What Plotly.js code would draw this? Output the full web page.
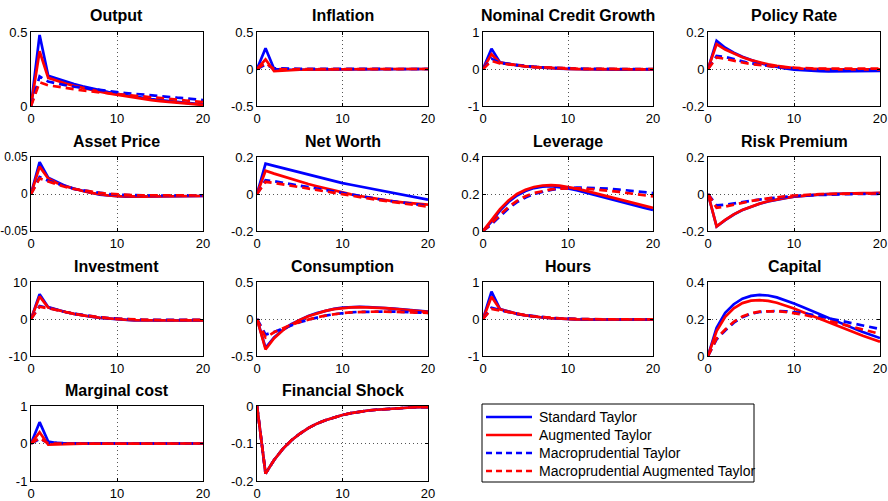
<!DOCTYPE html>
<html><head><meta charset="utf-8">
<script src="https://cdn.plot.ly/plotly-3.0.1.min.js"></script>
<style>html,body{margin:0;padding:0;background:#fff}#chart{width:888px;height:501px}</style>
</head><body><div id="chart"></div>
<script>
const periods = [0,1,2,3,4,5,6,7,8,9,10,11,12,13,14,15,16,17,18,19,20];
const seriesNames = ['Standard Taylor','Augmented Taylor','Macroprudential Taylor','Macroprudential Augmented Taylor'];
const xTickVals = [0,10,20];
const xTickText = ['0','10','20'];

// Output
const output_std = [0,0.48,0.205,0.185,0.165,0.148,0.133,0.119,0.106,0.094,0.083,0.073,0.064,0.055,0.047,0.040,0.033,0.027,0.021,0.016,0.011];
const output_aug = [0,0.37,0.19,0.17,0.152,0.136,0.121,0.108,0.096,0.085,0.075,0.065,0.056,0.048,0.040,0.033,0.027,0.021,0.016,0.011,0.007];
const output_mp  = [0,0.20,0.165,0.15,0.14,0.13,0.122,0.114,0.107,0.10,0.094,0.088,0.082,0.076,0.071,0.066,0.061,0.056,0.052,0.046,0.040];
const output_mpa = [0,0.16,0.14,0.13,0.12,0.112,0.105,0.098,0.092,0.086,0.080,0.074,0.068,0.062,0.057,0.052,0.047,0.042,0.037,0.032,0.027];
// Inflation
const infl_std = [0,0.28,0.0,-0.01,-0.01,-0.01,-0.01,-0.008,-0.006,-0.005,-0.004,-0.003,-0.002,-0.002,-0.001,-0.001,0,0,0,0,0];
const infl_aug = [0,0.13,-0.03,-0.02,-0.015,-0.01,-0.008,-0.006,-0.005,-0.004,-0.003,-0.002,-0.001,-0.001,0,0,0,0,0,0,0];
const infl_mp  = [0,0.06,0.01,0.005,0.003,0.002,0.001,0.001,0,0,0,0,0,0,0,0,0,0,0,0,0];
const infl_mpa = [0,0.08,0.0,-0.005,-0.004,-0.003,-0.002,-0.001,-0.001,0,0,0,0,0,0,0,0,0,0,0,0];
// Nominal Credit Growth
const credit_std = [0,0.55,0.18,0.13,0.10,0.07,0.05,0.035,0.02,0.01,0.0,-0.005,-0.01,-0.012,-0.014,-0.015,-0.015,-0.015,-0.015,-0.014,-0.013];
const credit_aug = [0,0.40,0.17,0.13,0.10,0.07,0.05,0.035,0.022,0.012,0.004,-0.002,-0.006,-0.009,-0.011,-0.012,-0.012,-0.012,-0.012,-0.011,-0.01];
const credit_mp  = [0,0.28,0.16,0.13,0.10,0.08,0.06,0.045,0.033,0.023,0.015,0.009,0.005,0.002,0,-0.001,-0.002,-0.002,-0.002,-0.002,-0.002];
const credit_mpa = [0,0.22,0.15,0.12,0.095,0.075,0.058,0.044,0.032,0.022,0.014,0.008,0.004,0.001,-0.001,-0.002,-0.003,-0.003,-0.003,-0.003,-0.003];
// Policy Rate
const rate_std = [0,0.152,0.115,0.088,0.066,0.048,0.033,0.021,0.011,0.003,-0.003,-0.007,-0.01,-0.012,-0.013,-0.013,-0.013,-0.012,-0.012,-0.011,-0.01];
const rate_aug = [0,0.135,0.105,0.082,0.063,0.048,0.035,0.025,0.017,0.010,0.005,0.002,0,-0.001,-0.002,-0.002,-0.002,-0.002,-0.002,-0.002,-0.002];
const rate_mp  = [0,0.070,0.065,0.052,0.041,0.031,0.023,0.016,0.010,0.005,0.001,-0.002,-0.004,-0.005,-0.006,-0.006,-0.006,-0.006,-0.006,-0.005,-0.005];
const rate_mpa = [0,0.062,0.055,0.044,0.035,0.027,0.021,0.016,0.012,0.009,0.006,0.004,0.003,0.002,0.002,0.002,0.002,0.002,0.002,0.002,0.002];
// Asset Price
const asset_std = [0,0.043,0.022,0.016,0.011,0.007,0.004,0.001,-0.001,-0.002,-0.003,-0.0035,-0.0035,-0.0035,-0.0035,-0.0033,-0.0032,-0.003,-0.003,-0.0028,-0.0027];
const asset_aug = [0,0.037,0.021,0.015,0.0105,0.007,0.004,0.0015,-0.0005,-0.002,-0.003,-0.0035,-0.0035,-0.0035,-0.0034,-0.0033,-0.0032,-0.003,-0.003,-0.0028,-0.0027];
const asset_mp  = [0,0.023,0.018,0.014,0.010,0.007,0.005,0.003,0.001,0,-0.001,-0.0015,-0.002,-0.002,-0.002,-0.002,-0.002,-0.002,-0.002,-0.002,-0.002];
const asset_mpa = [0,0.021,0.017,0.013,0.0095,0.0068,0.0048,0.003,0.0015,0.0003,-0.0006,-0.0012,-0.0016,-0.0018,-0.002,-0.002,-0.002,-0.002,-0.002,-0.002,-0.002];
// Net Worth
const nw_std = [0,0.164,0.152,0.14,0.128,0.116,0.104,0.092,0.081,0.07,0.059,0.05,0.041,0.032,0.023,0.014,0.005,-0.004,-0.013,-0.022,-0.031];
const nw_aug = [0,0.126,0.11,0.095,0.081,0.067,0.054,0.042,0.03,0.019,0.008,-0.002,-0.011,-0.019,-0.027,-0.034,-0.04,-0.045,-0.05,-0.054,-0.058];
const nw_mp  = [0,0.075,0.069,0.061,0.052,0.043,0.035,0.027,0.019,0.011,0.003,-0.005,-0.013,-0.02,-0.027,-0.034,-0.04,-0.046,-0.052,-0.058,-0.064];
const nw_mpa = [0,0.066,0.06,0.052,0.044,0.036,0.028,0.02,0.012,0.005,-0.003,-0.01,-0.017,-0.024,-0.031,-0.038,-0.044,-0.05,-0.056,-0.062,-0.068];
// Leverage
const lev_std = [0,0.05,0.11,0.157,0.192,0.216,0.232,0.24,0.242,0.238,0.23,0.22,0.208,0.196,0.183,0.17,0.157,0.145,0.134,0.124,0.114];
const lev_aug = [0,0.058,0.118,0.165,0.2,0.223,0.238,0.246,0.248,0.245,0.238,0.229,0.218,0.206,0.194,0.181,0.169,0.157,0.146,0.135,0.125];
const lev_mp  = [0,0.035,0.08,0.122,0.156,0.181,0.2,0.213,0.222,0.228,0.232,0.234,0.234,0.233,0.231,0.228,0.224,0.22,0.215,0.21,0.205];
const lev_mpa = [0,0.04,0.088,0.13,0.163,0.188,0.205,0.217,0.225,0.229,0.231,0.231,0.229,0.226,0.222,0.217,0.211,0.205,0.199,0.193,0.187];
// Risk Premium
const rp_std = [0,-0.176,-0.141,-0.111,-0.087,-0.068,-0.053,-0.04,-0.03,-0.022,-0.015,-0.01,-0.006,-0.003,-0.001,0.001,0.002,0.003,0.004,0.004,0.005];
const rp_aug = [0,-0.175,-0.14,-0.11,-0.086,-0.067,-0.052,-0.039,-0.029,-0.021,-0.014,-0.009,-0.005,-0.002,0,0.002,0.003,0.004,0.005,0.005,0.006];
const rp_mp  = [0,-0.062,-0.058,-0.05,-0.043,-0.036,-0.03,-0.024,-0.019,-0.015,-0.011,-0.008,-0.006,-0.004,-0.003,-0.002,-0.001,0,0,0.001,0.001];
const rp_mpa = [0,-0.075,-0.068,-0.057,-0.047,-0.038,-0.03,-0.023,-0.017,-0.012,-0.008,-0.005,-0.003,-0.001,0,0.001,0.002,0.002,0.003,0.003,0.003];
// Investment
const inv_std = [0,6.7,3.2,2.5,1.9,1.4,0.95,0.6,0.3,0.1,-0.1,-0.25,-0.35,-0.4,-0.42,-0.43,-0.42,-0.41,-0.4,-0.38,-0.36];
const inv_aug = [0,6.1,3.1,2.45,1.9,1.4,0.97,0.62,0.33,0.12,-0.05,-0.2,-0.3,-0.36,-0.4,-0.41,-0.41,-0.4,-0.39,-0.37,-0.35];
const inv_mp  = [0,3.5,3.0,2.4,1.9,1.45,1.05,0.72,0.45,0.24,0.07,-0.05,-0.14,-0.2,-0.24,-0.26,-0.27,-0.27,-0.27,-0.26,-0.25];
const inv_mpa = [0,3.3,2.9,2.35,1.85,1.42,1.03,0.7,0.44,0.23,0.06,-0.06,-0.15,-0.21,-0.25,-0.27,-0.28,-0.28,-0.28,-0.27,-0.26];
// Consumption
const cons_std = [0,-0.39,-0.25,-0.15,-0.07,-0.01,0.04,0.08,0.112,0.137,0.153,0.162,0.164,0.162,0.157,0.15,0.141,0.131,0.12,0.11,0.1];
const cons_aug = [0,-0.41,-0.26,-0.155,-0.075,-0.012,0.038,0.077,0.109,0.134,0.15,0.158,0.16,0.158,0.153,0.146,0.137,0.127,0.117,0.106,0.095];
const cons_mp  = [0,-0.21,-0.175,-0.13,-0.085,-0.045,-0.01,0.02,0.045,0.065,0.08,0.09,0.097,0.1,0.102,0.101,0.099,0.096,0.092,0.088,0.084];
const cons_mpa = [0,-0.25,-0.18,-0.125,-0.078,-0.04,-0.006,0.022,0.046,0.065,0.08,0.09,0.096,0.099,0.1,0.099,0.097,0.094,0.09,0.086,0.082];
// Hours
const hours_std = [0,0.74,0.27,0.2,0.14,0.1,0.065,0.04,0.02,0.005,-0.005,-0.012,-0.016,-0.018,-0.019,-0.019,-0.019,-0.018,-0.017,-0.016,-0.015];
const hours_aug = [0,0.6,0.26,0.195,0.14,0.1,0.066,0.041,0.022,0.007,-0.003,-0.01,-0.014,-0.016,-0.017,-0.017,-0.017,-0.016,-0.015,-0.014,-0.013];
const hours_mp  = [0,0.3,0.24,0.185,0.14,0.1,0.07,0.047,0.03,0.016,0.006,-0.001,-0.006,-0.009,-0.011,-0.012,-0.012,-0.012,-0.012,-0.011,-0.011];
const hours_mpa = [0,0.27,0.23,0.18,0.137,0.1,0.07,0.047,0.03,0.016,0.006,-0.001,-0.006,-0.009,-0.011,-0.012,-0.012,-0.012,-0.012,-0.011,-0.011];
// Capital
const cap_std = [0,0.153,0.233,0.28,0.31,0.325,0.33,0.327,0.317,0.302,0.284,0.265,0.245,0.225,0.205,0.185,0.166,0.148,0.13,0.113,0.097];
const cap_aug = [0,0.135,0.212,0.258,0.286,0.299,0.302,0.298,0.288,0.274,0.257,0.238,0.219,0.2,0.181,0.162,0.144,0.126,0.109,0.093,0.077];
const cap_mp  = [0,0.09,0.138,0.18,0.21,0.228,0.238,0.243,0.244,0.242,0.238,0.232,0.224,0.215,0.205,0.195,0.185,0.175,0.165,0.155,0.146];
const cap_mpa = [0,0.095,0.143,0.185,0.214,0.231,0.24,0.243,0.242,0.238,0.232,0.224,0.214,0.203,0.191,0.179,0.167,0.155,0.143,0.131,0.12];
// Marginal cost
const mc_std = [0,0.57,0.05,0.01,0.005,0.002,0.001,0,0,0,0,0,0,0,0,0,0,0,0,0,0];
const mc_aug = [0,0.30,-0.03,-0.02,-0.012,-0.007,-0.004,-0.002,-0.001,0,0,0,0,0,0,0,0,0,0,0,0];
const mc_mp  = [0,0.12,0.02,0.01,0.005,0.002,0.001,0,0,0,0,0,0,0,0,0,0,0,0,0,0];
const mc_mpa = [0,0.15,0.0,-0.01,-0.006,-0.003,-0.002,-0.001,0,0,0,0,0,0,0,0,0,0,0,0,0];
// Financial Shock
const fs_std = [0,-0.18,-0.144,-0.115,-0.092,-0.074,-0.059,-0.047,-0.038,-0.030,-0.024,-0.019,-0.015,-0.012,-0.010,-0.008,-0.006,-0.005,-0.004,-0.003,-0.003];
const fs_aug = [0,-0.18,-0.144,-0.115,-0.092,-0.074,-0.059,-0.047,-0.038,-0.030,-0.024,-0.019,-0.015,-0.012,-0.010,-0.008,-0.006,-0.005,-0.004,-0.003,-0.003];
const fs_mp  = [0,-0.18,-0.144,-0.115,-0.092,-0.074,-0.059,-0.047,-0.038,-0.030,-0.024,-0.019,-0.015,-0.012,-0.010,-0.008,-0.006,-0.005,-0.004,-0.003,-0.003];
const fs_mpa = [0,-0.18,-0.144,-0.115,-0.092,-0.074,-0.059,-0.047,-0.038,-0.030,-0.024,-0.019,-0.015,-0.012,-0.010,-0.008,-0.006,-0.005,-0.004,-0.003,-0.003];

const panelTitles = ['Output','Inflation','Nominal Credit Growth','Policy Rate','Asset Price','Net Worth','Leverage','Risk Premium','Investment','Consumption','Hours','Capital','Marginal cost','Financial Shock'];
const panelSeries = [
  [output_std,output_aug,output_mp,output_mpa],
  [infl_std,infl_aug,infl_mp,infl_mpa],
  [credit_std,credit_aug,credit_mp,credit_mpa],
  [rate_std,rate_aug,rate_mp,rate_mpa],
  [asset_std,asset_aug,asset_mp,asset_mpa],
  [nw_std,nw_aug,nw_mp,nw_mpa],
  [lev_std,lev_aug,lev_mp,lev_mpa],
  [rp_std,rp_aug,rp_mp,rp_mpa],
  [inv_std,inv_aug,inv_mp,inv_mpa],
  [cons_std,cons_aug,cons_mp,cons_mpa],
  [hours_std,hours_aug,hours_mp,hours_mpa],
  [cap_std,cap_aug,cap_mp,cap_mpa],
  [mc_std,mc_aug,mc_mp,mc_mpa],
  [fs_std,fs_aug,fs_mp,fs_mpa]
];
const yRanges = [[0,0.5],[-0.5,0.5],[-1,1],[-0.2,0.2],[-0.05,0.05],[-0.2,0.2],[0,0.4],[-0.2,0.2],[-10,10],[-0.5,0.5],[-1,1],[0,0.4],[-1,1],[-0.2,0]];
const yTickVals = [[0,0.5],[-0.5,0,0.5],[-1,0,1],[-0.2,0,0.2],[-0.05,0,0.05],[-0.2,0,0.2],[0,0.2,0.4],[-0.2,0,0.2],[-10,0,10],[-0.5,0,0.5],[-1,0,1],[0,0.2,0.4],[-1,0,1],[-0.2,-0.1,0]];
const yTickText = [['0','0.5'],['-0.5','0','0.5'],['-1','0','1'],['-0.2','0','0.2'],['-0.05','0','0.05'],['-0.2','0','0.2'],['0','0.2','0.4'],['-0.2','0','0.2'],['-10','0','10'],['-0.5','0','0.5'],['-1','0','1'],['0','0.2','0.4'],['-1','0','1'],['-0.2','-0.1','0']];

const colors = ['#0000ff','#ff0000','#0000ff','#ff0000'];
const dashes = ['solid','solid','8px,5px','8px,5px'];

const W = 888, H = 501;
const colL = [31,257,483,708], colR = [203,428,653,880];
const rowT = [32,157,282,406], rowB = [106,231,356,481];
const FONT = 'Liberation Sans, Arial, Helvetica, sans-serif';

const common = {
  showline: true, linecolor: '#000', linewidth: 1, mirror: 'ticks',
  ticks: 'inside', ticklen: 3, tickcolor: '#000', tickwidth: 1,
  showgrid: true, gridcolor: '#555', gridwidth: 1, griddash: '1px,3px',
  zeroline: false, fixedrange: true,
  tickfont: {family: FONT, size: 13, color: '#000'}
};

const traces = [];
const layout = {
  width: W, height: H, margin: {l:0, r:0, t:0, b:0},
  paper_bgcolor: '#fff', plot_bgcolor: '#fff',
  showlegend: false,
  annotations: [], shapes: []
};

panelTitles.forEach((title, i) => {
  const r = Math.floor(i/4), c = i % 4, n = i + 1;
  const sfx = n === 1 ? '' : String(n);
  layout['xaxis'+sfx] = Object.assign({}, common, {
    domain: [colL[c]/W, colR[c]/W], anchor: 'y'+sfx, range: [0,20],
    tickmode: 'array', tickvals: xTickVals, ticktext: xTickText
  });
  const yax = Object.assign({}, common, {
    domain: [1-rowB[r]/H, 1-rowT[r]/H], anchor: 'x'+sfx, range: yRanges[i],
    tickmode: 'array', tickvals: yTickVals[i], ticktext: yTickText[i]
  });
  // keep the widest first-column labels fully inside the page
  if (c === 0 && yTickText[i].some(s => s.length > 4)) {
    yax.tickfont = {family: FONT, size: 12, color: '#000'};
    yax.ticklabelstandoff = 0;
  }
  layout['yaxis'+sfx] = yax;
  panelSeries[i].forEach((ys, k) => {
    traces.push({
      x: periods, y: ys, xaxis: 'x'+sfx, yaxis: 'y'+sfx,
      type: 'scatter', mode: 'lines', name: seriesNames[k],
      showlegend: false, hoverinfo: 'skip',
      line: {color: colors[k], width: 2.7, dash: dashes[k]}
    });
  });
  layout.annotations.push({
    text: '<b>' + title + '</b>', xref: 'paper', yref: 'paper',
    x: (colL[c]+colR[c])/2/W, y: 1-(rowT[r]-16)/H,
    xanchor: 'center', yanchor: 'middle', showarrow: false,
    font: {family: FONT, size: 16, color: '#000'}
  });
});

// Legend key, MATLAB-style box
const LEG = {left: 482, right: 754, top: 404, bottom: 482, firstRow: 417, rowGap: 18, lineL: 486, lineR: 532, textL: 537};
layout.shapes.push({type: 'rect', xref: 'paper', yref: 'paper',
  x0: LEG.left/W, x1: LEG.right/W, y0: 1-LEG.bottom/H, y1: 1-LEG.top/H,
  line: {color: '#000', width: 1}, fillcolor: '#fff', layer: 'above'});
seriesNames.forEach((nm, k) => {
  const yy = 1 - (LEG.firstRow + k*LEG.rowGap)/H;
  layout.shapes.push({type: 'line', xref: 'paper', yref: 'paper',
    x0: LEG.lineL/W, x1: LEG.lineR/W, y0: yy, y1: yy, layer: 'above',
    line: {color: colors[k], width: 2.7, dash: dashes[k] === 'solid' ? 'solid' : '6px,4px'}});
  layout.annotations.push({text: nm, xref: 'paper', yref: 'paper',
    x: LEG.textL/W, y: yy, xanchor: 'left', yanchor: 'middle', showarrow: false,
    font: {family: FONT, size: 14, color: '#000'}});
});

Plotly.newPlot('chart', traces, layout, {displayModeBar: false, staticPlot: true});
</script>
</body></html>
